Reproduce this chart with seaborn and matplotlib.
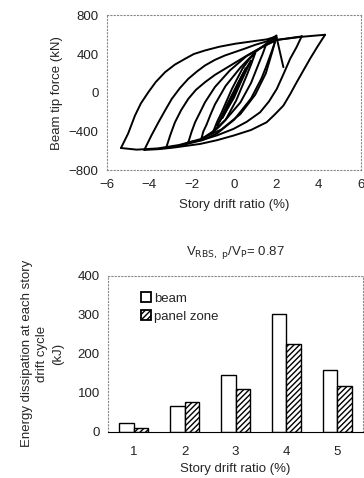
import numpy as np
import pandas as pd
import matplotlib
matplotlib.use("Agg")
import matplotlib.pyplot as plt
import seaborn as sns
from matplotlib.patches import Patch

# --- hysteresis branches (drift %, force kN) ---
# rising branches: from negative peak up to positive peak
up_05_x = [-0.4, -0.2, 0.0, 0.2, 0.4]
up_05_y = [-180, -90, 10, 100, 175]
up_075_x = [-0.55, -0.3, 0.0, 0.3, 0.55]
up_075_y = [-260, -150, 0, 140, 250]
up_1_x = [-0.8, -0.6, -0.3, 0.0, 0.4, 0.8]
up_1_y = [-340, -250, -110, 20, 190, 330]
up_125_x = [-1.0, -0.8, -0.6, -0.1, 0.4, 0.7, 1.0]
up_125_y = [-410, -300, -210, 40, 250, 340, 410]
up_15_x = [-1.55, -1.45, -1.3, -1.1, -0.9, -0.4, 0.3, 1.0, 1.6, 2.0]
up_15_y = [-480, -400, -330, -220, -120, 70, 260, 420, 520, 570]
up_2_x = [-2.16, -2.0, -1.84, -1.6, -1.37, -0.9, -0.2, 0.6, 1.4, 2.0, 3.2]
up_2_y = [-512, -400, -305, -200, -98, 60, 230, 380, 480, 545, 582]
up_3_x = [-3.21, -3.0, -2.79, -2.5, -2.16, -1.8, -1.37, -0.9, -0.43, 0.5, 1.3, 2.0, 3.2, 4.3]
up_3_y = [-571, -430, -305, -180, -63, 30, 109, 185, 247, 370, 470, 545, 578, 599]
up_4_x = [-4.24, -3.9, -3.57, -3.25, -2.94, -2.55, -2.16, -1.75, -1.37, -0.9, -0.43, 0.5, 1.0, 1.54, 2.0]
up_4_y = [-591, -440, -305, -180, -63, 50, 144, 220, 282, 340, 385, 455, 495, 530, 590]
up_5_x = [-5.34, -5.0, -4.68, -4.4, -4.05, -3.7, -3.26, -2.8, -2.31, -1.9, -1.37, -0.7, 0.05, 1.0, 1.54, 2.0, 2.33]
up_5_y = [-571, -420, -236, -110, 5, 110, 212, 290, 351, 400, 437, 475, 506, 535, 551, 580, 264]

# falling branches: from positive peak down to negative peak
dn_05_x = [0.4, 0.2, 0.0, -0.2, -0.4]
dn_05_y = [175, 80, -20, -110, -180]
dn_075_x = [0.55, 0.3, 0.0, -0.3, -0.55]
dn_075_y = [250, 130, -20, -150, -260]
dn_1_x = [0.8, 0.6, 0.3, 0.0, -0.4, -0.8]
dn_1_y = [330, 240, 100, -50, -200, -340]
dn_125_x = [1.0, 0.8, 0.6, 0.1, -0.4, -0.7, -1.0]
dn_125_y = [410, 290, 180, -80, -280, -350, -410]
dn_15_x = [1.5, 1.35, 1.2, 1.0, 0.8, 0.3, -0.4, -1.0, -1.55]
dn_15_y = [490, 400, 320, 210, 100, -100, -280, -400, -480]
dn_2_x = [2.0, 1.85, 1.7, 1.5, 1.3, 0.8, 0.0, -0.8, -1.5, -2.16]
dn_2_y = [570, 470, 380, 260, 150, -60, -280, -420, -490, -512]
dn_3_x = [3.2, 2.95, 2.65, 2.35, 2.02, 1.65, 1.23, 0.6, -0.03, -0.8, -1.6, -2.5, -3.21]
dn_3_y = [585, 470, 351, 200, 40, -90, -202, -300, -374, -440, -495, -545, -571]
dn_4_x = [4.3, 3.95, 3.59, 2.96, 2.65, 2.33, 1.9, 1.54, 0.8, -0.03, -0.8, -1.6, -2.8, -3.5, -4.24]
dn_4_y = [599, 480, 351, 109, -15, -133, -230, -305, -385, -443, -490, -529, -565, -582, -591]
dn_5_x = [2.0, 1.9, 1.8, 1.65, 1.5, 1.0, 0.3, -0.6, -1.6, -2.6, -3.6, -4.6, -5.34]
dn_5_y = [590, 500, 420, 310, 200, -20, -220, -380, -480, -540, -575, -588, -571]

# --- energy dissipation per drift cycle ---
drift_levels = ["1", "2", "3", "4", "5"]
energy_beam = [21, 66, 146, 303, 157]
energy_panel = [10, 77, 110, 226, 118]

branches = [
    (up_05_x, up_05_y), (up_075_x, up_075_y), (up_1_x, up_1_y), (up_125_x, up_125_y),
    (up_15_x, up_15_y), (up_2_x, up_2_y), (up_3_x, up_3_y), (up_4_x, up_4_y), (up_5_x, up_5_y),
    (dn_05_x, dn_05_y), (dn_075_x, dn_075_y), (dn_1_x, dn_1_y), (dn_125_x, dn_125_y),
    (dn_15_x, dn_15_y), (dn_2_x, dn_2_y), (dn_3_x, dn_3_y), (dn_4_x, dn_4_y), (dn_5_x, dn_5_y),
]

sns.set_style("white")
plt.rcParams['font.family'] = ['Liberation Sans', 'DejaVu Sans']
plt.rcParams['hatch.linewidth'] = 1.0
FS = 9.5

fig = plt.figure(figsize=(3.64, 4.78), dpi=100)
ax1 = fig.add_axes([0.294, 0.644, 0.698, 0.324])
ax2 = fig.add_axes([0.297, 0.097, 0.70, 0.326])


def dotted_frame(ax):
    for sp in ax.spines.values():
        sp.set_linestyle((0, (1, 2)))
        sp.set_color('#888888')
        sp.set_linewidth(0.8)
    ax.tick_params(length=0, labelsize=FS, pad=6, colors='#222222')


# top: hysteresis loops
for bx, by in branches:
    sns.lineplot(x=bx, y=by, sort=False, estimator=None, color='black', lw=1.4, ax=ax1)
ax1.set_xlim(-6, 6)
ax1.set_ylim(-800, 800)
ax1.set_xticks([-6, -4, -2, 0, 2, 4, 6])
ax1.set_xticklabels(['\u22126', '\u22124', '\u22122', '0', '2', '4', '6'])
ax1.set_yticks([-800, -400, 0, 400, 800])
ax1.set_yticklabels(['\u2212800', '\u2212400', '0', '400', '800'])
ax1.set_xlabel('Story drift ratio (%)', fontsize=FS, labelpad=6)
ax1.set_ylabel('Beam tip force (kN)', fontsize=FS, labelpad=4)
dotted_frame(ax1)

# bottom: energy bars
df = pd.DataFrame({
    'drift': drift_levels * 2,
    'energy': energy_beam + energy_panel,
    'part': ['beam'] * 5 + ['panel zone'] * 5,
})
sns.barplot(data=df, x='drift', y='energy', hue='part', palette=['white', 'white'],
            edgecolor='black', linewidth=1.0, width=0.58, ax=ax2, legend=False)
for bar, h in zip(ax2.patches, [''] * 5 + ['//////'] * 5):
    bar.set_hatch(h)
ax2.set_xlim(-0.5, 4.5)
ax2.set_ylim(0, 400)
ax2.set_yticks([0, 100, 200, 300, 400])
ax2.set_xlabel('Story drift ratio (%)', fontsize=FS, labelpad=4)
ax2.set_ylabel('Energy dissipation at each story\ndrift cycle\n(kJ)', fontsize=FS, labelpad=10,
               linespacing=1.35)
ax2.set_title(r'V$_{\rm RBS,\ p}$/V$_{\rm P}$= 0.87', fontsize=FS, pad=15)
dotted_frame(ax2)
ax2.tick_params(axis='x', pad=10)
ax2.spines['bottom'].set_linestyle('-')
ax2.spines['bottom'].set_color('black')

handles = [Patch(facecolor='white', edgecolor='black', linewidth=1.3, label='beam'),
           Patch(facecolor='white', edgecolor='black', linewidth=1.3, hatch='//////', label='panel zone')]
ax2.legend(handles=handles, loc='upper left', bbox_to_anchor=(0.11, 0.93), frameon=False,
           fontsize=FS, handlelength=0.75, handleheight=0.8, handletextpad=0.2,
           labelspacing=0.4, borderaxespad=0)

fig.savefig('out.png', dpi=100)
